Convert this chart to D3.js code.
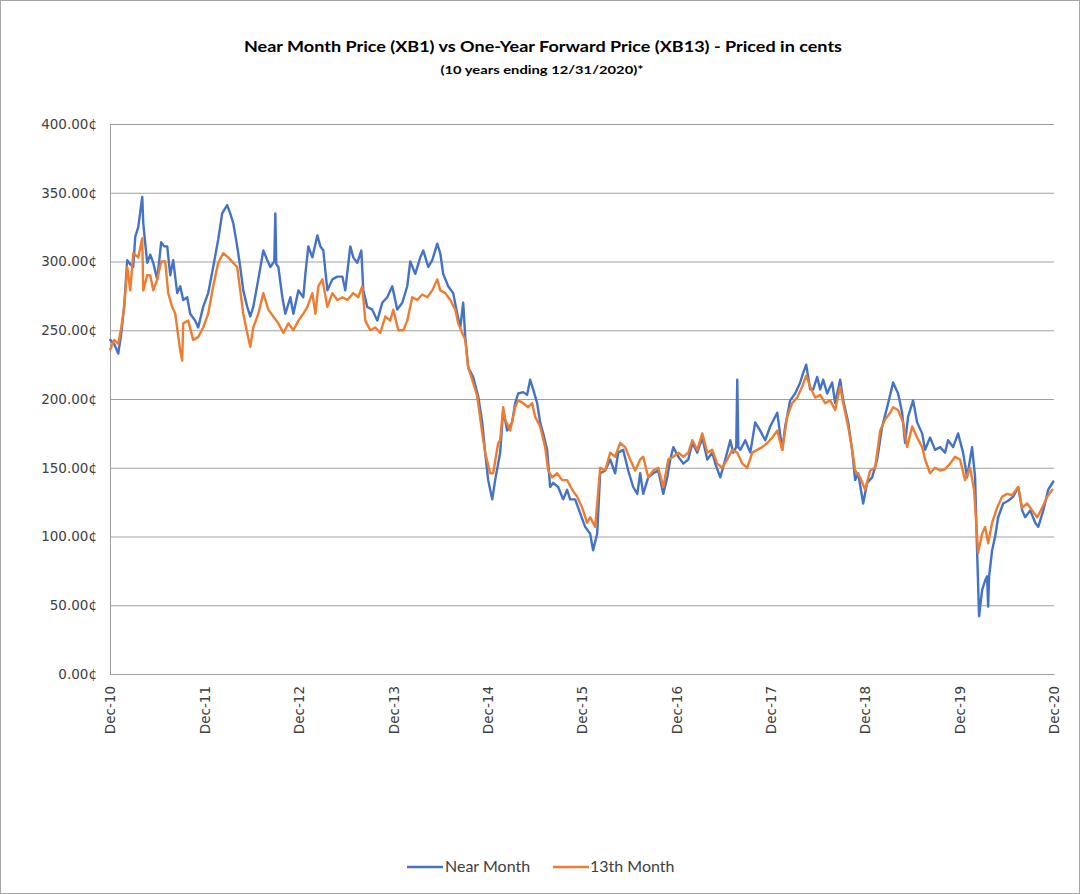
<!DOCTYPE html>
<html>
<head>
<meta charset="utf-8">
<script src="https://cdn.jsdelivr.net/npm/d3@7"></script>
<style>
  html, body { margin: 0; padding: 0; background: #fff; }
  svg { display: block; }
</style>
</head>
<body>
<div id="chart"></div>
<script>
// ---------- DATA (dates as decimal years, values in cents) ----------
const nearYears = [
2011.000,2011.042,2011.085,2011.117,2011.148,2011.180,2011.212,2011.244,2011.265,2011.297,
2011.339,2011.350,2011.371,2011.392,2011.424,2011.456,2011.498,2011.540,2011.572,2011.604,
2011.636,2011.667,2011.710,2011.742,2011.773,2011.816,2011.847,2011.900,2011.932,2011.985,
2012.038,2012.091,2012.144,2012.186,2012.239,2012.271,2012.303,2012.345,2012.377,2012.409,
2012.451,2012.483,2012.515,2012.568,2012.621,2012.663,2012.695,2012.737,2012.748,2012.758,
2012.780,2012.822,2012.854,2012.907,2012.939,2012.992,2013.044,2013.066,2013.097,2013.140,
2013.193,2013.225,2013.256,2013.299,2013.352,2013.405,2013.458,2013.489,2013.542,2013.574,
2013.616,2013.659,2013.680,2013.722,2013.775,2013.828,2013.881,2013.934,2013.987,2014.040,
2014.093,2014.146,2014.178,2014.231,2014.284,2014.316,2014.369,2014.411,2014.464,2014.496,
2014.527,2014.580,2014.633,2014.676,2014.708,2014.739,2014.761,2014.792,2014.845,2014.898,
2014.941,2014.972,2015.004,2015.047,2015.078,2015.131,2015.163,2015.205,2015.258,2015.290,
2015.322,2015.375,2015.417,2015.449,2015.481,2015.523,2015.555,2015.587,2015.629,2015.661,
2015.693,2015.746,2015.799,2015.841,2015.873,2015.926,2015.979,2016.032,2016.085,2016.116,
2016.159,2016.191,2016.244,2016.297,2016.349,2016.381,2016.434,2016.487,2016.540,2016.583,
2016.614,2016.646,2016.699,2016.752,2016.805,2016.858,2016.900,2016.932,2016.964,2017.017,
2017.070,2017.123,2017.165,2017.218,2017.271,2017.324,2017.377,2017.409,2017.462,2017.515,
2017.568,2017.599,2017.631,2017.642,2017.653,2017.674,2017.727,2017.780,2017.832,2017.885,
2017.938,2017.991,2018.066,2018.119,2018.150,2018.203,2018.256,2018.309,2018.341,2018.373,
2018.415,2018.447,2018.489,2018.521,2018.553,2018.595,2018.648,2018.680,2018.733,2018.765,
2018.818,2018.860,2018.892,2018.924,2018.977,2019.019,2019.072,2019.125,2019.178,2019.231,
2019.284,2019.294,2019.347,2019.390,2019.421,2019.453,2019.506,2019.549,2019.602,2019.633,
2019.686,2019.739,2019.792,2019.845,2019.877,2019.930,2019.983,2020.036,2020.078,2020.131,
2020.163,2020.184,2020.205,2020.237,2020.269,2020.290,2020.301,2020.311,2020.343,2020.375,
2020.407,2020.460,2020.513,2020.566,2020.619,2020.661,2020.693,2020.746,2020.799,2020.831,
2020.884,2020.936,2020.990
];
const nearValues = [
243,240,233,248,268,301,298,296,318,325,
347,328,313,299,305,299,287,314,311,311,
290,301,277,282,272,274,262,257,252,267,
277,296,316,335,341,335,328,311,296,279,
267,260,267,287,308,301,296,300,335,298,
296,274,262,274,262,279,274,291,311,303,
319,311,308,279,287,289,289,279,311,303,
299,308,279,267,265,257,270,274,282,265,
270,282,300,291,303,308,296,301,313,306,
291,282,277,262,252,270,245,223,216,202,
183,161,141,127,141,161,192,177,183,197,
204,205,203,214,207,197,183,175,163,136,
139,136,127,134,127,127,117,107,102,90,
102,146,148,156,146,161,163,148,136,131,
146,131,143,146,148,131,143,156,165,158,
153,156,168,161,172,156,161,153,143,156,
170,161,165,214,165,163,170,161,183,177,
170,180,190,163,180,199,204,212,219,225,
207,207,216,207,214,204,212,197,214,199,
183,163,141,146,124,139,143,156,180,194,
209,212,204,190,168,187,199,183,175,163,
172,163,165,161,170,165,175,161,143,165,
143,90,42,61,68,71,49,71,90,100,
114,124,126,129,136,119,114,119,110,107,
119,134,140
];

const thirteenthYears = [
2011.000,2011.042,2011.085,2011.117,2011.148,2011.180,2011.212,2011.244,2011.297,2011.339,
2011.350,2011.392,2011.424,2011.456,2011.498,2011.540,2011.583,2011.614,2011.657,2011.689,
2011.742,2011.763,2011.773,2011.826,2011.879,2011.932,2011.985,2012.038,2012.091,2012.144,
2012.197,2012.250,2012.303,2012.345,2012.377,2012.409,2012.451,2012.483,2012.515,2012.568,
2012.621,2012.674,2012.727,2012.780,2012.833,2012.886,2012.939,2012.992,2013.044,2013.087,
2013.140,2013.172,2013.203,2013.246,2013.299,2013.352,2013.405,2013.458,2013.511,2013.574,
2013.627,2013.669,2013.701,2013.754,2013.807,2013.860,2013.913,2013.966,2013.998,2014.051,
2014.104,2014.146,2014.199,2014.252,2014.305,2014.358,2014.411,2014.464,2014.496,2014.549,
2014.602,2014.655,2014.686,2014.729,2014.761,2014.792,2014.835,2014.888,2014.941,2014.972,
2015.025,2015.057,2015.110,2015.131,2015.163,2015.184,2015.237,2015.290,2015.322,2015.375,
2015.427,2015.470,2015.502,2015.555,2015.608,2015.640,2015.682,2015.735,2015.788,2015.841,
2015.894,2015.947,2016.000,2016.053,2016.085,2016.138,2016.191,2016.244,2016.297,2016.349,
2016.402,2016.455,2016.508,2016.561,2016.614,2016.646,2016.699,2016.752,2016.805,2016.858,
2016.911,2016.964,2017.017,2017.070,2017.123,2017.165,2017.218,2017.271,2017.324,2017.377,
2017.430,2017.483,2017.536,2017.589,2017.642,2017.695,2017.748,2017.801,2017.854,2017.906,
2017.960,2018.013,2018.066,2018.119,2018.171,2018.224,2018.277,2018.330,2018.373,2018.415,
2018.468,2018.521,2018.574,2018.627,2018.680,2018.733,2018.765,2018.818,2018.860,2018.892,
2018.945,2018.998,2019.051,2019.104,2019.157,2019.209,2019.263,2019.294,2019.347,2019.400,
2019.443,2019.496,2019.549,2019.602,2019.633,2019.686,2019.739,2019.792,2019.845,2019.898,
2019.951,2020.004,2020.057,2020.110,2020.152,2020.184,2020.195,2020.237,2020.269,2020.301,
2020.343,2020.396,2020.449,2020.502,2020.555,2020.619,2020.661,2020.714,2020.767,2020.820,
2020.873,2020.926,2020.979
];
const thirteenthValues = [
236,243,240,252,267,296,279,306,303,317,
279,290,290,279,287,300,300,277,267,262,
235,228,255,257,243,245,252,262,282,299,
306,303,299,296,279,262,248,238,252,262,
277,265,260,255,248,255,250,257,262,267,
277,262,282,287,267,277,272,274,272,277,
274,282,257,250,252,248,260,257,265,250,
250,257,274,272,276,274,279,287,279,277,
272,265,255,248,243,223,214,202,175,161,
146,146,168,170,194,185,177,194,199,197,
194,197,187,180,165,148,143,146,141,141,
134,129,121,110,114,107,150,148,161,158,
168,165,156,148,156,158,143,148,150,136,
156,158,161,158,161,170,163,175,161,163,
153,150,156,163,161,153,150,161,163,165,
168,172,177,163,187,197,201,209,217,209,
201,203,197,199,192,209,197,180,163,148,
143,134,148,150,177,185,190,194,192,183,
165,180,172,165,156,146,150,148,149,153,
158,156,141,150,134,100,88,102,107,95,
110,121,129,131,130,136,121,124,119,114,
121,129,134
];

const yTickValues = [0, 50, 100, 150, 200, 250, 300, 350, 400];
const xTickLabels = ["Dec-10","Dec-11","Dec-12","Dec-13","Dec-14","Dec-15","Dec-16","Dec-17","Dec-18","Dec-19","Dec-20"];
const seriesNames = ["Near Month", "13th Month"];
const seriesColors = ["#4472C4", "#ED7D31"];
const titleText = "Near Month Price (XB1) vs One-Year Forward Price (XB13) - Priced in cents";
const subtitleText = "(10 years ending  12/31/2020)*";

// ---------- HELPERS ----------
function decYearToDate(t) {
  const yr = Math.floor(t);
  const s = new Date(yr, 0, 1), e = new Date(yr + 1, 0, 1);
  return new Date(+s + (t - yr) * (e - s));
}
const near = nearYears.map((t, i) => ({ date: decYearToDate(t), v: nearValues[i] }));
const thirteenth = thirteenthYears.map((t, i) => ({ date: decYearToDate(t), v: thirteenthValues[i] }));
const xTickDates = xTickLabels.map((_, i) => new Date(2010 + i, 11, 31));

// ---------- LAYOUT ----------
const W = 1080, H = 894;
const plot = { left: 110, right: 1054, top: 124, bottom: 674 };

const svg = d3.select("#chart").append("svg")
  .attr("width", W).attr("height", H);

svg.append("rect")
  .attr("x", 0.5).attr("y", 0.5).attr("width", W - 1).attr("height", H - 1)
  .attr("fill", "#fff").attr("stroke", "#a6a6a6").attr("stroke-width", 1);

const x = d3.scaleTime()
  .domain([xTickDates[0], xTickDates[xTickDates.length - 1]])
  .range([plot.left, plot.right]);
const y = d3.scaleLinear().domain([0, 400]).range([plot.bottom, plot.top]);

// Title
svg.append("text")
  .attr("x", 543).attr("y", 52)
  .attr("text-anchor", "middle")
  .attr("font-family", "Lato, 'Open Sans', sans-serif")
  .attr("font-weight", "bold").attr("font-size", 16)
  .attr("fill", "#000")
  .attr("textLength", 598).attr("lengthAdjust", "spacingAndGlyphs")
  .text(titleText);
svg.append("text")
  .attr("x", 542).attr("y", 74)
  .attr("text-anchor", "middle")
  .attr("font-family", "Lato, 'Open Sans', sans-serif")
  .attr("font-weight", "bold").attr("font-size", 12)
  .attr("fill", "#000")
  .attr("textLength", 203).attr("lengthAdjust", "spacingAndGlyphs")
  .text(subtitleText);

// Y axis with gridlines
const yAxis = d3.axisLeft(y)
  .tickValues(yTickValues)
  .tickSize(-(plot.right - plot.left))
  .tickSizeOuter(0)
  .tickPadding(13)
  .tickFormat(d => d3.format(".2f")(d) + "¢");
const gy = svg.append("g")
  .attr("transform", `translate(${plot.left},0)`)
  .call(yAxis);
gy.selectAll(".tick line").attr("stroke", "#a0a0a0").attr("stroke-width", 1);
gy.select(".domain").attr("stroke", "#a0a0a0").attr("stroke-width", 1);
gy.selectAll(".tick text")
  .attr("font-family", "'DejaVu Sans', Verdana, sans-serif")
  .attr("font-size", 13.5)
  .attr("fill", "#404040");

// X axis (labels only)
const xAxis = d3.axisBottom(x)
  .tickValues(xTickDates)
  .tickSize(0)
  .tickSizeOuter(0)
  .tickFormat((d, i) => xTickLabels[i]);
const gx = svg.append("g")
  .attr("transform", `translate(0,${plot.bottom})`)
  .call(xAxis);
gx.select(".domain").attr("stroke", "#a0a0a0");
gx.selectAll(".tick text")
  .attr("font-family", "'DejaVu Sans', Verdana, sans-serif")
  .attr("font-size", 13.5)
  .attr("fill", "#404040")
  .attr("text-anchor", "end")
  .attr("transform", "rotate(-90)")
  .attr("x", -12)
  .attr("y", 0)
  .attr("dy", "0.36em");

// Lines
const line = d3.line()
  .x(d => x(d.date))
  .y(d => y(d.v))
  .curve(d3.curveLinear);

[near, thirteenth].forEach((data, i) => {
  svg.append("path")
    .datum(data)
    .attr("fill", "none")
    .attr("stroke", seriesColors[i])
    .attr("stroke-width", 2.4)
    .attr("stroke-linejoin", "round")
    .attr("stroke-linecap", "round")
    .attr("d", line);
});

// Legend
const legendItems = [
  { x0: 407, x1: 443, tx: 445 },
  { x0: 553, x1: 589, tx: 590 }
];
const lg = svg.append("g");
legendItems.forEach((it, i) => {
  lg.append("line")
    .attr("x1", it.x0).attr("x2", it.x1)
    .attr("y1", 867).attr("y2", 867)
    .attr("stroke", seriesColors[i]).attr("stroke-width", 2.4);
  lg.append("text")
    .attr("x", it.tx).attr("y", 872)
    .attr("font-family", "Lato, 'Open Sans', sans-serif")
    .attr("font-size", 16)
    .attr("fill", "#404040")
    .text(seriesNames[i]);
});
</script>
</body>
</html>
